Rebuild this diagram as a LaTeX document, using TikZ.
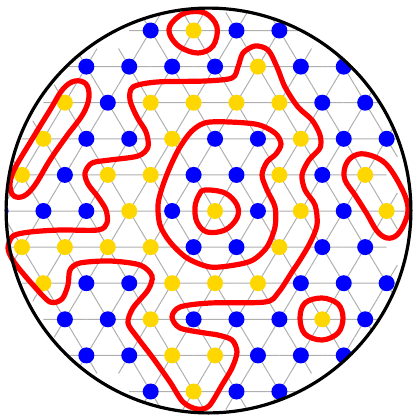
\documentclass[tikz,border=0pt]{standalone}
\usepackage{tikz}
\definecolor{Site}{RGB}{0,0,255}
\definecolor{Gold}{RGB}{255,215,0}
\definecolor{Wall}{RGB}{255,0,0}
\definecolor{Bond}{RGB}{175,175,175}

% rows of the lattice: row / first index / colours
\def\sites{1/3/{blu,yel,blu,blu},
  2/1/{blu,blu,blu,blu,yel,blu,blu},
  3/1/{yel,blu,yel,yel,yel,yel,blu,blu},
  4/0/{yel,blu,blu,yel,blu,blu,yel,blu,blu},
  5/0/{yel,blu,yel,yel,blu,blu,yel,blu,yel},
  6/-1/{blu,blu,blu,yel,blu,yel,blu,yel,blu,yel},
  7/0/{yel,yel,yel,yel,blu,blu,yel,blu,blu},
  8/0/{yel,blu,blu,yel,yel,yel,blu,blu,blu},
  9/1/{blu,blu,yel,blu,blu,blu,yel,blu},
  10/1/{blu,blu,yel,yel,blu,blu,blu},
  11/3/{blu,yel,blu,blu}}

\begin{document}
\begin{tikzpicture}[x=0.25mm, y=-0.25mm,
    bond/.style={draw=Bond, line width=0.25mm},
    blu/.style={fill=Site},
    yel/.style={fill=Gold},
    wall/.style={draw=Wall, line width=1.3mm, line join=round},
    rim/.style={draw=black, line width=0.8mm}]

  \useasboundingbox (0,0) rectangle (415,417);
  \coordinate (centre) at (208.5,210.5);

  \begin{scope}
    \clip (centre) circle (50.6mm);
    % bonds first
    \foreach \r/\k/\cols in \sites {
      \foreach \c [count=\i from \k] in \cols {
        \pgfmathsetmacro{\px}{22+42.9*(\i+0.5*(1-mod(\r,2)))}
        \pgfmathsetmacro{\py}{30.5+36.1*(\r-1)}
        \draw[bond] (\px-21.45,\py) -- (\px+21.45,\py)
                    (\px-10.7,\py-18.05) -- (\px+10.7,\py+18.05)
                    (\px+10.7,\py-18.05) -- (\px-10.7,\py+18.05);
      }
    }
    % then the spins
    \foreach \r/\k/\cols in \sites {
      \foreach \c [count=\i from \k] in \cols {
        \pgfmathsetmacro{\px}{22+42.9*(\i+0.5*(1-mod(\r,2)))}
        \pgfmathsetmacro{\py}{30.5+36.1*(\r-1)}
        \fill[\c] (\px,\py) circle (2mm);
      }
    }
  \end{scope}

  % domain walls
  \draw[wall] plot[smooth cycle, tension=0.6] coordinates {
    (171,24) (185,13) (205,13) (217,27) (213,46) (198,53) (180,47) (170,35)};
  \draw[wall] plot[smooth cycle, tension=0.6] coordinates {
    (75,81) (86,84) (89,97) (83,114) (66,137) (50,160) (35,185) (24,196)
    (14,196) (10,186) (14,170) (31,141) (50,110) (63,89)};
  \draw[wall] plot[smooth cycle, tension=0.5] coordinates {
    (133,87) (130,100) (137,117) (146,132) (148,147) (138,156) (110,160)
    (92,163) (85,173) (88,184) (98,197) (106,210) (107,223) (98,230)
    (60,230) (30,232) (13,236) (8,248) (14,262) (33,285) (50,302) (62,299)
    (68,285) (70,270) (80,263) (110,261) (140,265) (152,276) (148,290)
    (133,308) (128,323) (137,337) (153,358) (170,382) (183,402) (197,409)
    (209,406) (222,385) (232,368) (237,352) (232,340) (218,335) (205,333)
    (180,328) (172,317) (180,307) (210,303) (265,302) (278,293) (292,272)
    (300,260) (310,243) (317,225) (315,205) (305,190) (302,175) (309,160)
    (320,148) (320,135) (312,120) (298,107) (285,87) (277,67) (268,50)
    (255,46) (243,53) (238,67) (232,78) (205,81) (157,82)};
  \draw[wall] plot[smooth cycle, tension=0.5] coordinates {
    (210,122) (255,124) (275,133) (281,144) (276,154) (267,162) (262,175)
    (267,190) (275,207) (275,227) (267,247) (253,260) (235,265) (210,267)
    (187,258) (170,242) (160,225) (158,205) (162,188) (170,167) (180,147)
    (193,130)};
  \draw[wall] plot[smooth cycle, tension=0.6] coordinates {
    (205,190) (225,193) (237,205) (237,218) (225,230) (207,232) (197,222)
    (195,207) (199,195)};
  \draw[wall] plot[smooth cycle, tension=0.6] coordinates {
    (345,167) (352,157) (365,154) (385,163) (401,187) (408,207) (405,222)
    (397,235) (387,238) (377,231) (367,214) (355,195) (345,180)};
  \draw[wall] plot[smooth cycle, tension=0.6] coordinates {
    (305,303) (322,298) (338,304) (343,318) (338,333) (322,340) (305,334)
    (300,318)};

  \draw[rim] (centre) circle (50.6mm);
\end{tikzpicture}
\end{document}
